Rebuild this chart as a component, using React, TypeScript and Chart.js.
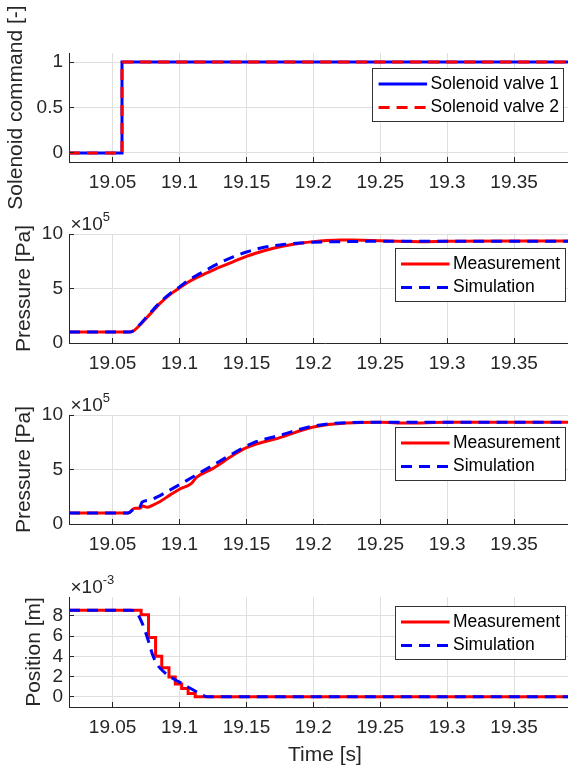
import React, { useEffect, useRef } from "react";
import { Chart, registerables } from "chart.js";

Chart.register(...registerables);

// ---- shared time axis ----
const T_START = 19.0174;
const T_END = 19.4;
const timeTicks = [19.05, 19.1, 19.15, 19.2, 19.25, 19.3, 19.35];
const timeTickLabels = ["19.05", "19.1", "19.15", "19.2", "19.25", "19.3", "19.35"];

// ---- solenoid commands [-] ----
const commandTime = [19.0174, 19.057, 19.4];
const valve1Command = [0, 1, 1];
const valve2Command = [0, 1, 1];
const commandTicks = [0, 0.5, 1];

// ---- chamber 1 pressure [Pa] ----
const chamber1MeasTime = [19.0174, 19.062, 19.066, 19.07, 19.078, 19.086, 19.094, 19.1, 19.106, 19.112, 19.12, 19.13, 19.14, 19.15, 19.16, 19.17, 19.18, 19.19, 19.2, 19.21, 19.22, 19.23, 19.25, 19.27, 19.28, 19.3, 19.35, 19.4];
const chamber1MeasPa = [1.0e5, 1.0e5, 1.15e5, 1.6e5, 2.65e5, 3.7e5, 4.55e5, 5.05e5, 5.55e5, 5.95e5, 6.4e5, 6.95e5, 7.45e5, 7.95e5, 8.35e5, 8.7e5, 8.95e5, 9.15e5, 9.3e5, 9.4e5, 9.45e5, 9.44e5, 9.38e5, 9.32e5, 9.3e5, 9.33e5, 9.35e5, 9.35e5];
const chamber1SimTime = [19.0174, 19.062, 19.066, 19.07, 19.078, 19.086, 19.094, 19.1, 19.106, 19.112, 19.12, 19.13, 19.14, 19.15, 19.16, 19.175, 19.19, 19.2, 19.22, 19.25, 19.3, 19.4];
const chamber1SimPa = [1.0e5, 1.0e5, 1.15e5, 1.65e5, 2.75e5, 3.8e5, 4.65e5, 5.15e5, 5.7e5, 6.15e5, 6.7e5, 7.35e5, 7.9e5, 8.35e5, 8.7e5, 9.0e5, 9.18e5, 9.24e5, 9.3e5, 9.33e5, 9.33e5, 9.33e5];

// ---- chamber 2 pressure [Pa] ----
const chamber2MeasTime = [19.0174, 19.0615, 19.0665, 19.0702, 19.0727, 19.0757, 19.0802, 19.0852, 19.0927, 19.0996, 19.1089, 19.1126, 19.125, 19.14, 19.15, 19.175, 19.2, 19.225, 19.25, 19.27, 19.3, 19.4];
const chamber2MeasPa = [1.0e5, 1.0e5, 1.44e5, 1.44e5, 1.65e5, 1.53e5, 1.74e5, 2.04e5, 2.65e5, 3.17e5, 3.72e5, 4.27e5, 5.1e5, 6.31e5, 7.0e5, 7.93e5, 8.9e5, 9.27e5, 9.33e5, 9.27e5, 9.33e5, 9.33e5];
const chamber2SimTime = [19.0174, 19.0615, 19.0665, 19.0705, 19.072, 19.0777, 19.0927, 19.1101, 19.125, 19.14, 19.155, 19.175, 19.2, 19.225, 19.25, 19.4];
const chamber2SimPa = [1.0e5, 1.0e5, 1.44e5, 1.6e5, 2.0e5, 2.2e5, 3.11e5, 4.33e5, 5.4e5, 6.47e5, 7.44e5, 8.14e5, 8.99e5, 9.3e5, 9.33e5, 9.33e5];
const pressureTicks = [0, 5e5, 10e5];

// ---- spool position [m] ----
const positionMeasTime = [19.0174, 19.0713, 19.0768, 19.0821, 19.0867, 19.0921, 19.0968, 19.1016, 19.1064, 19.1117, 19.4];
const positionMeasM = [8.55e-3, 8.09e-3, 5.86e-3, 4.0e-3, 2.87e-3, 1.95e-3, 1.26e-3, 0.83e-3, 0.34e-3, 0, 0];
const positionSimTime = [19.0174, 19.064, 19.068, 19.072, 19.0745, 19.077, 19.08, 19.0835, 19.088, 19.094, 19.1, 19.106, 19.112, 19.117, 19.121, 19.4];
const positionSimM = [8.55e-3, 8.55e-3, 8.3e-3, 7.3e-3, 6.4e-3, 5.4e-3, 4.1e-3, 3.15e-3, 2.5e-3, 1.9e-3, 1.45e-3, 1.0e-3, 0.55e-3, 0.2e-3, 0, 0];
const positionTicks = [0, 2e-3, 4e-3, 6e-3, 8e-3];

// ---- styling ----
const FONT = '"Liberation Sans", Arial, Helvetica, sans-serif';
const AXIS_COLOR = "#262626";
const GRID_COLOR = "#dfdfdf";
const RED = "#ff0000";
const BLUE = "#0000ff";
const CANVAS_W = 582;
const CANVAS_H = 771;
const PLOT_LEFT = 69;
const PLOT_RIGHT = 581;
const TICK_FONT = 19;
const LABEL_FONT = 21;
const LEGEND_FONT = 17.5;
const LINE_W = 3;
const DASH = [11, 7];
const X_AXIS_H = 40;

type Series = {
  label: string;
  time: number[];
  values: number[];
  color: string;
  dashed: boolean;
  stepped: boolean;
  smooth: boolean;
  order: number;
};

type Panel = {
  top: number;
  bottom: number;
  padLeft: number;
  yMin: number;
  yMax: number;
  yTicks: number[];
  yFormat: (v: number) => string;
  yLabel: string;
  exponent?: string;
  legendTop: number;
  legendRight: number;
  series: Series[];
  xTitle?: string;
};

const PANELS: Panel[] = [
  {
    top: 53,
    bottom: 162,
    padLeft: 6,
    yMin: -0.1,
    yMax: 1.1,
    yTicks: commandTicks,
    yFormat: (v) => String(v),
    yLabel: "Solenoid command [-]",
    legendTop: 68,
    legendRight: 564,
    series: [
      { label: "Solenoid valve 1", time: commandTime, values: valve1Command, color: BLUE, dashed: false, stepped: true, smooth: false, order: 1 },
      { label: "Solenoid valve 2", time: commandTime, values: valve2Command, color: RED, dashed: true, stepped: true, smooth: false, order: 0 },
    ],
  },
  {
    top: 234,
    bottom: 343,
    padLeft: 13.5,
    yMin: 0,
    yMax: 10e5,
    yTicks: pressureTicks,
    yFormat: (v) => String(Math.round(v / 1e5)),
    yLabel: "Pressure [Pa]",
    exponent: "5",
    legendTop: 248,
    legendRight: 565,
    series: [
      { label: "Measurement", time: chamber1MeasTime, values: chamber1MeasPa, color: RED, dashed: false, stepped: false, smooth: true, order: 1 },
      { label: "Simulation", time: chamber1SimTime, values: chamber1SimPa, color: BLUE, dashed: true, stepped: false, smooth: true, order: 0 },
    ],
  },
  {
    top: 415,
    bottom: 524,
    padLeft: 13.5,
    yMin: 0,
    yMax: 10e5,
    yTicks: pressureTicks,
    yFormat: (v) => String(Math.round(v / 1e5)),
    yLabel: "Pressure [Pa]",
    exponent: "5",
    legendTop: 427,
    legendRight: 565,
    series: [
      { label: "Measurement", time: chamber2MeasTime, values: chamber2MeasPa, color: RED, dashed: false, stepped: false, smooth: true, order: 1 },
      { label: "Simulation", time: chamber2SimTime, values: chamber2SimPa, color: BLUE, dashed: true, stepped: false, smooth: true, order: 0 },
    ],
  },
  {
    top: 597,
    bottom: 707,
    padLeft: 24,
    yMin: -1e-3,
    yMax: 9.85e-3,
    yTicks: positionTicks,
    yFormat: (v) => String(Math.round(v / 1e-3)),
    yLabel: "Position [m]",
    exponent: "-3",
    legendTop: 606,
    legendRight: 565,
    xTitle: "Time [s]",
    series: [
      { label: "Measurement", time: positionMeasTime, values: positionMeasM, color: RED, dashed: false, stepped: true, smooth: false, order: 1 },
      { label: "Simulation", time: positionSimTime, values: positionSimM, color: BLUE, dashed: true, stepped: false, smooth: true, order: 0 },
    ],
  },
];

const align = (p: number) => Math.round(p - 0.5) + 0.5;

// Inner tick marks, the axis multiplier and the boxed legend.
function makeDecor(panel: Panel) {
  return {
    id: "decor",
    afterDatasetsDraw(chart: any) {
      const ctx: CanvasRenderingContext2D = chart.ctx;
      const { left, top, bottom } = chart.chartArea;
      const xs = chart.scales.x;
      const ys = chart.scales.y;

      ctx.save();
      ctx.strokeStyle = AXIS_COLOR;
      ctx.lineWidth = 1;
      ctx.setLineDash([]);
      ctx.beginPath();
      for (const t of timeTicks) {
        const px = align(xs.getPixelForValue(t));
        ctx.moveTo(px, bottom);
        ctx.lineTo(px, bottom - 5);
      }
      for (const v of panel.yTicks) {
        const py = align(ys.getPixelForValue(v));
        ctx.moveTo(left, py);
        ctx.lineTo(left + 5, py);
      }
      ctx.stroke();

      // multiplier such as x10^5
      if (panel.exponent) {
        ctx.fillStyle = AXIS_COLOR;
        ctx.textBaseline = "alphabetic";
        ctx.textAlign = "left";
        ctx.font = `${TICK_FONT}px ${FONT}`;
        const base = "\u00d710";
        const x0 = 70.5;
        ctx.fillText(base, x0, top - 3.7);
        const w = ctx.measureText(base).width;
        ctx.font = `13px ${FONT}`;
        ctx.fillText(panel.exponent, x0 + w, top - 13.5);
      }

      // legend
      ctx.font = `${LEGEND_FONT}px ${FONT}`;
      const entries = panel.series;
      const textW = Math.max(...entries.map((s) => ctx.measureText(s.label).width));
      const padL = 5.7;
      const sample = 48.5;
      const gap = 3.5;
      const padR = 5;
      const boxW = padL + sample + gap + textW + padR;
      const boxH = 53;
      const bx = panel.legendRight - boxW;
      const by = panel.legendTop;
      ctx.fillStyle = "#ffffff";
      ctx.fillRect(bx, by, boxW, boxH);
      ctx.strokeStyle = "#333333";
      ctx.lineWidth = 1;
      ctx.strokeRect(align(bx), align(by), Math.round(boxW), Math.round(boxH));
      const rows = [by + 16, by + 39.5];
      entries.forEach((s, i) => {
        const cy = rows[i];
        ctx.strokeStyle = s.color;
        ctx.lineWidth = LINE_W;
        ctx.setLineDash(s.dashed ? DASH : []);
        ctx.beginPath();
        ctx.moveTo(bx + padL, cy);
        ctx.lineTo(bx + padL + sample, cy);
        ctx.stroke();
        ctx.setLineDash([]);
        ctx.fillStyle = "#000000";
        ctx.textBaseline = "middle";
        ctx.textAlign = "left";
        ctx.fillText(s.label, bx + padL + sample + gap, cy);
      });
      ctx.restore();
    },
  };
}

function buildConfig(panel: Panel): any {
  const xH = panel.xTitle ? 58.5 : X_AXIS_H;
  const padBottom = CANVAS_H - panel.bottom - xH;
  return {
    type: "line",
    data: {
      datasets: panel.series.map((s) => ({
        label: s.label,
        data: s.time.map((t, i) => ({ x: t, y: s.values[i] })),
        borderColor: s.color,
        backgroundColor: s.color,
        borderWidth: LINE_W,
        borderDash: s.dashed ? DASH : [],
        pointRadius: 0,
        pointHoverRadius: 0,
        fill: false,
        stepped: s.stepped,
        tension: 0,
        cubicInterpolationMode: s.smooth ? "monotone" : "default",
        order: s.order,
      })),
    },
    options: {
      responsive: false,
      animation: false,
      events: [],
      layout: {
        padding: {
          top: panel.top,
          left: panel.padLeft,
          right: CANVAS_W - PLOT_RIGHT,
          bottom: padBottom,
        },
      },
      plugins: {
        legend: { display: false },
        tooltip: { enabled: false },
        title: { display: false },
      },
      scales: {
        x: {
          type: "linear",
          min: T_START,
          max: T_END,
          afterBuildTicks: (s: any) => {
            s.ticks = timeTicks.map((v) => ({ value: v }));
          },
          afterFit: (s: any) => {
            s.height = xH;
          },
          ticks: {
            autoSkip: false,
            maxRotation: 0,
            minRotation: 0,
            padding: 11,
            color: AXIS_COLOR,
            font: { family: FONT, size: TICK_FONT, lineHeight: 1 },
            callback: (_v: number, i: number) => timeTickLabels[i],
          },
          grid: { color: GRID_COLOR, lineWidth: 1, drawTicks: false },
          border: { display: true, color: AXIS_COLOR, width: 1 },
          title: panel.xTitle
            ? {
                display: true,
                text: panel.xTitle,
                color: AXIS_COLOR,
                padding: 0,
                font: { family: FONT, size: LABEL_FONT, lineHeight: 1 },
              }
            : { display: false },
        },
        y: {
          type: "linear",
          min: panel.yMin,
          max: panel.yMax,
          afterBuildTicks: (s: any) => {
            s.ticks = panel.yTicks.map((v) => ({ value: v }));
          },
          afterFit: (s: any) => {
            s.width = PLOT_LEFT - panel.padLeft;
          },
          ticks: {
            padding: 6,
            color: AXIS_COLOR,
            font: { family: FONT, size: TICK_FONT, lineHeight: 1 },
            callback: (v: number) => panel.yFormat(v),
          },
          grid: { color: GRID_COLOR, lineWidth: 1, drawTicks: false },
          border: { display: true, color: AXIS_COLOR, width: 1 },
          title: {
            display: true,
            text: panel.yLabel,
            color: AXIS_COLOR,
            padding: 0,
            font: { family: FONT, size: LABEL_FONT, lineHeight: 1 },
          },
        },
      },
    },
    plugins: [makeDecor(panel)],
  };
}

function PanelChart({ panel }: { panel: Panel }) {
  const ref = useRef<HTMLCanvasElement | null>(null);
  useEffect(() => {
    if (!ref.current) return;
    const chart = new Chart(ref.current, buildConfig(panel));
    return () => chart.destroy();
  }, [panel]);
  return (
    <canvas
      ref={ref}
      width={CANVAS_W}
      height={CANVAS_H}
      style={{ position: "absolute", left: 0, top: 0, width: CANVAS_W, height: CANVAS_H }}
    />
  );
}

export default function App() {
  return (
    <div
      style={{
        position: "absolute",
        left: 0,
        top: 0,
        width: 568,
        height: 771,
        overflow: "hidden",
        background: "#ffffff",
      }}
    >
      {PANELS.map((p, i) => (
        <PanelChart key={i} panel={p} />
      ))}
    </div>
  );
}
